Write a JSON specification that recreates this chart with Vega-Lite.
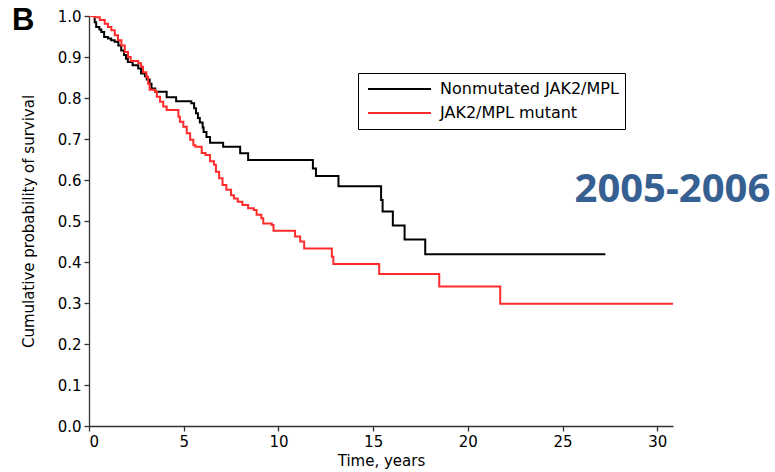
{
  "$schema": "https://vega.github.io/schema/vega-lite/v6.json",
  "width": 584,
  "height": 410,
  "autosize": {"type": "none"},
  "padding": {"left": 89, "top": 16, "right": 102, "bottom": 46},
  "background": "white",
  "title": {"text": "B", "anchor": "start", "frame": "group", "orient": "top", "offset": -13, "baseline": "alphabetic", "dx": -77, "dy": 39, "fontSize": 31, "fontWeight": "bold", "font": "Liberation Sans", "color": "black"},
  "config": {
    "view": {"stroke": null},
    "axis": {
      "grid": false,
      "domainColor": "#333333",
      "tickColor": "#333333",
      "domainWidth": 1.3,
      "tickWidth": 1.3,
      "tickSize": 5,
      "labelPadding": 3,
      "labelFont": "DejaVu Sans",
      "labelFontSize": 15,
      "labelColor": "black",
      "titleFont": "DejaVu Sans",
      "titleFontSize": 15,
      "titleFontWeight": "normal",
      "titleColor": "black"
    },
    "legend": {
      "orient": "none",
      "legendX": 269,
      "legendY": 57,
      "padding": 6,
      "strokeColor": "black",
      "fillColor": "white",
      "symbolType": "stroke",
      "symbolSize": 3969,
      "symbolStrokeWidth": 2,
      "symbolOffset": 3,
      "labelOffset": 8,
      "clipHeight": 20,
      "rowPadding": 4,
      "labelFont": "DejaVu Sans",
      "labelFontSize": 16,
      "labelColor": "black",
      "labelLimit": 400
    }
  },
  "layer": [
    {
      "data": {"values": [
        {"group": "Nonmutated JAK2/MPL", "time": 0, "surv": 1.0},
        {"group": "Nonmutated JAK2/MPL", "time": 0.3, "surv": 0.985},
        {"group": "Nonmutated JAK2/MPL", "time": 0.38, "surv": 0.973},
        {"group": "Nonmutated JAK2/MPL", "time": 0.55, "surv": 0.967},
        {"group": "Nonmutated JAK2/MPL", "time": 0.65, "surv": 0.961},
        {"group": "Nonmutated JAK2/MPL", "time": 0.8, "surv": 0.949},
        {"group": "Nonmutated JAK2/MPL", "time": 1.0, "surv": 0.945},
        {"group": "Nonmutated JAK2/MPL", "time": 1.17, "surv": 0.941},
        {"group": "Nonmutated JAK2/MPL", "time": 1.35, "surv": 0.937},
        {"group": "Nonmutated JAK2/MPL", "time": 1.55, "surv": 0.928},
        {"group": "Nonmutated JAK2/MPL", "time": 1.7, "surv": 0.916},
        {"group": "Nonmutated JAK2/MPL", "time": 1.85, "surv": 0.905},
        {"group": "Nonmutated JAK2/MPL", "time": 1.95, "surv": 0.896},
        {"group": "Nonmutated JAK2/MPL", "time": 2.05, "surv": 0.888},
        {"group": "Nonmutated JAK2/MPL", "time": 2.3, "surv": 0.88},
        {"group": "Nonmutated JAK2/MPL", "time": 2.6, "surv": 0.872},
        {"group": "Nonmutated JAK2/MPL", "time": 2.75, "surv": 0.86},
        {"group": "Nonmutated JAK2/MPL", "time": 2.95, "surv": 0.853},
        {"group": "Nonmutated JAK2/MPL", "time": 3.05, "surv": 0.845},
        {"group": "Nonmutated JAK2/MPL", "time": 3.2, "surv": 0.835},
        {"group": "Nonmutated JAK2/MPL", "time": 3.3, "surv": 0.823},
        {"group": "Nonmutated JAK2/MPL", "time": 3.5, "surv": 0.815},
        {"group": "Nonmutated JAK2/MPL", "time": 4.1, "surv": 0.802},
        {"group": "Nonmutated JAK2/MPL", "time": 4.6, "surv": 0.792},
        {"group": "Nonmutated JAK2/MPL", "time": 5.4, "surv": 0.787},
        {"group": "Nonmutated JAK2/MPL", "time": 5.55, "surv": 0.775},
        {"group": "Nonmutated JAK2/MPL", "time": 5.65, "surv": 0.763},
        {"group": "Nonmutated JAK2/MPL", "time": 5.75, "surv": 0.751},
        {"group": "Nonmutated JAK2/MPL", "time": 5.85, "surv": 0.74},
        {"group": "Nonmutated JAK2/MPL", "time": 6.0, "surv": 0.728},
        {"group": "Nonmutated JAK2/MPL", "time": 6.05, "surv": 0.717},
        {"group": "Nonmutated JAK2/MPL", "time": 6.2, "surv": 0.705},
        {"group": "Nonmutated JAK2/MPL", "time": 6.39, "surv": 0.691},
        {"group": "Nonmutated JAK2/MPL", "time": 7.08, "surv": 0.681},
        {"group": "Nonmutated JAK2/MPL", "time": 7.98, "surv": 0.665},
        {"group": "Nonmutated JAK2/MPL", "time": 8.4, "surv": 0.649},
        {"group": "Nonmutated JAK2/MPL", "time": 11.82, "surv": 0.628},
        {"group": "Nonmutated JAK2/MPL", "time": 11.98, "surv": 0.61},
        {"group": "Nonmutated JAK2/MPL", "time": 13.17, "surv": 0.585},
        {"group": "Nonmutated JAK2/MPL", "time": 15.42, "surv": 0.551},
        {"group": "Nonmutated JAK2/MPL", "time": 15.5, "surv": 0.523},
        {"group": "Nonmutated JAK2/MPL", "time": 16.04, "surv": 0.489},
        {"group": "Nonmutated JAK2/MPL", "time": 16.66, "surv": 0.455},
        {"group": "Nonmutated JAK2/MPL", "time": 17.75, "surv": 0.419},
        {"group": "Nonmutated JAK2/MPL", "time": 27.26, "surv": 0.419},
        {"group": "JAK2/MPL mutant", "time": 0, "surv": 1.0},
        {"group": "JAK2/MPL mutant", "time": 0.3, "surv": 0.997},
        {"group": "JAK2/MPL mutant", "time": 0.57, "surv": 0.99},
        {"group": "JAK2/MPL mutant", "time": 0.83, "surv": 0.981},
        {"group": "JAK2/MPL mutant", "time": 1.0, "surv": 0.973},
        {"group": "JAK2/MPL mutant", "time": 1.18, "surv": 0.965},
        {"group": "JAK2/MPL mutant", "time": 1.36, "surv": 0.953},
        {"group": "JAK2/MPL mutant", "time": 1.53, "surv": 0.941},
        {"group": "JAK2/MPL mutant", "time": 1.71, "surv": 0.928},
        {"group": "JAK2/MPL mutant", "time": 1.89, "surv": 0.912},
        {"group": "JAK2/MPL mutant", "time": 2.06, "surv": 0.9},
        {"group": "JAK2/MPL mutant", "time": 2.2, "surv": 0.89},
        {"group": "JAK2/MPL mutant", "time": 2.6, "surv": 0.885},
        {"group": "JAK2/MPL mutant", "time": 2.75, "surv": 0.876},
        {"group": "JAK2/MPL mutant", "time": 2.85, "surv": 0.863},
        {"group": "JAK2/MPL mutant", "time": 3.03, "surv": 0.851},
        {"group": "JAK2/MPL mutant", "time": 3.12, "surv": 0.835},
        {"group": "JAK2/MPL mutant", "time": 3.2, "surv": 0.82},
        {"group": "JAK2/MPL mutant", "time": 3.49, "surv": 0.815},
        {"group": "JAK2/MPL mutant", "time": 3.58, "surv": 0.803},
        {"group": "JAK2/MPL mutant", "time": 3.75, "surv": 0.791},
        {"group": "JAK2/MPL mutant", "time": 3.92, "surv": 0.779},
        {"group": "JAK2/MPL mutant", "time": 4.1, "surv": 0.771},
        {"group": "JAK2/MPL mutant", "time": 4.72, "surv": 0.754},
        {"group": "JAK2/MPL mutant", "time": 4.8, "surv": 0.742},
        {"group": "JAK2/MPL mutant", "time": 4.98, "surv": 0.73},
        {"group": "JAK2/MPL mutant", "time": 5.16, "surv": 0.714},
        {"group": "JAK2/MPL mutant", "time": 5.34, "surv": 0.698},
        {"group": "JAK2/MPL mutant", "time": 5.51, "surv": 0.685},
        {"group": "JAK2/MPL mutant", "time": 5.62, "surv": 0.681},
        {"group": "JAK2/MPL mutant", "time": 5.95, "surv": 0.666},
        {"group": "JAK2/MPL mutant", "time": 6.15, "surv": 0.661},
        {"group": "JAK2/MPL mutant", "time": 6.39, "surv": 0.646},
        {"group": "JAK2/MPL mutant", "time": 6.6, "surv": 0.637},
        {"group": "JAK2/MPL mutant", "time": 6.7, "surv": 0.62},
        {"group": "JAK2/MPL mutant", "time": 6.87, "surv": 0.604},
        {"group": "JAK2/MPL mutant", "time": 7.05, "surv": 0.588},
        {"group": "JAK2/MPL mutant", "time": 7.25, "surv": 0.576},
        {"group": "JAK2/MPL mutant", "time": 7.5, "surv": 0.563},
        {"group": "JAK2/MPL mutant", "time": 7.65, "surv": 0.555},
        {"group": "JAK2/MPL mutant", "time": 7.85, "surv": 0.547},
        {"group": "JAK2/MPL mutant", "time": 8.1, "surv": 0.539},
        {"group": "JAK2/MPL mutant", "time": 8.4, "surv": 0.531},
        {"group": "JAK2/MPL mutant", "time": 8.7, "surv": 0.527},
        {"group": "JAK2/MPL mutant", "time": 8.85, "surv": 0.515},
        {"group": "JAK2/MPL mutant", "time": 9.1, "surv": 0.507},
        {"group": "JAK2/MPL mutant", "time": 9.2, "surv": 0.494},
        {"group": "JAK2/MPL mutant", "time": 9.65, "surv": 0.49},
        {"group": "JAK2/MPL mutant", "time": 9.74, "surv": 0.476},
        {"group": "JAK2/MPL mutant", "time": 10.88, "surv": 0.462},
        {"group": "JAK2/MPL mutant", "time": 11.15, "surv": 0.45},
        {"group": "JAK2/MPL mutant", "time": 11.36, "surv": 0.433},
        {"group": "JAK2/MPL mutant", "time": 12.82, "surv": 0.413},
        {"group": "JAK2/MPL mutant", "time": 12.9, "surv": 0.395},
        {"group": "JAK2/MPL mutant", "time": 15.32, "surv": 0.371},
        {"group": "JAK2/MPL mutant", "time": 18.49, "surv": 0.34},
        {"group": "JAK2/MPL mutant", "time": 21.71, "surv": 0.298},
        {"group": "JAK2/MPL mutant", "time": 30.83, "surv": 0.298}
      ]},
      "mark": {"type": "line", "interpolate": "step-after", "strokeWidth": 2, "clip": true},
      "encoding": {
        "x": {
          "field": "time", "type": "quantitative",
          "scale": {"domain": [0, 30.83], "nice": false, "zero": true},
          "axis": {"title": "Time, years", "values": [0, 5, 10, 15, 20, 25, 30], "format": "d", "titlePadding": 4}
        },
        "y": {
          "field": "surv", "type": "quantitative",
          "scale": {"domain": [0, 1], "nice": false},
          "axis": {"title": "Cumulative probability of survival", "values": [0, 0.1, 0.2, 0.3, 0.4, 0.5, 0.6, 0.7, 0.8, 0.9, 1.0], "format": ".1f", "titlePadding": 21}
        },
        "color": {
          "field": "group", "type": "nominal",
          "scale": {"domain": ["Nonmutated JAK2/MPL", "JAK2/MPL mutant"], "range": ["#000000", "#ff2a2a"]},
          "legend": {"title": null}
        }
      }
    },
    {
      "data": {"values": [{"label": "2005-2006"}]},
      "mark": {"type": "text", "font": "Open Sans", "fontWeight": "bold", "fontSize": 40, "color": "#376092", "align": "center", "baseline": "middle", "clip": false},
      "encoding": {
        "x": {"datum": 30.8, "type": "quantitative"},
        "y": {"datum": 0.575, "type": "quantitative"},
        "text": {"field": "label"}
      }
    }
  ]
}
